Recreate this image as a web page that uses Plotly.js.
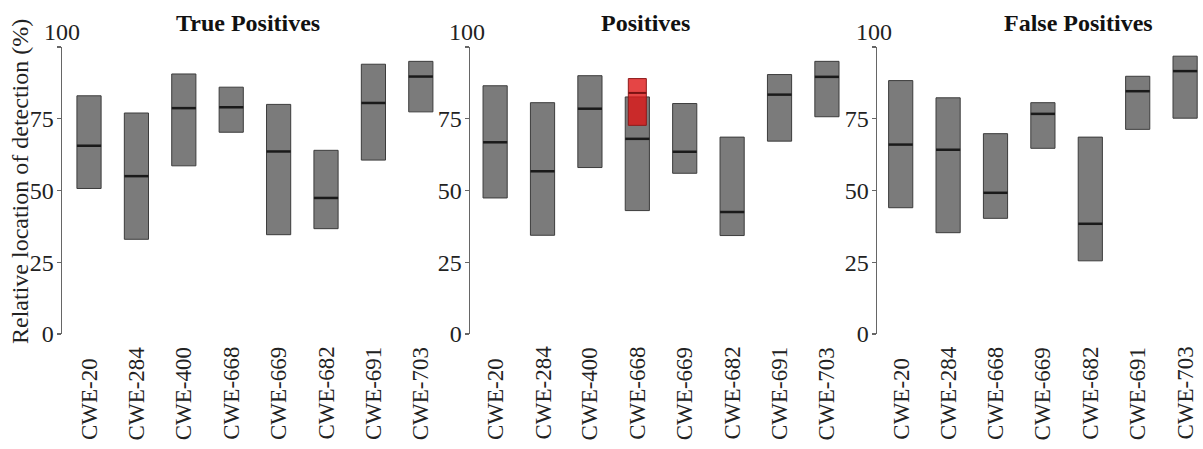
<!DOCTYPE html>
<html>
<head>
<meta charset="utf-8">
<script src="https://cdn.plot.ly/plotly-3.0.1.min.js"></script>
<style>html,body{margin:0;padding:0;background:#fff;}#chart{width:1203px;height:449px;}</style>
</head>
<body>
<div id="chart"></div>
<script>
// ---- data ----
const panelTitles = ['True Positives', 'Positives', 'False Positives'];
const yTitle = 'Relative location of detection (%)';
const yTickVals = [0, 25, 50, 75, 100];
const yTickText = ['0', '25', '50', '75', ''];
const topLabel = '100';

const tpCats = ['CWE-20','CWE-284','CWE-400','CWE-668','CWE-669','CWE-682','CWE-691','CWE-703'];
const tpLow  = [50.7, 33.0, 58.6, 70.3, 34.6, 36.7, 60.6, 77.4];
const tpHigh = [83.0, 77.0, 90.6, 86.0, 80.0, 64.0, 94.0, 95.0];
const tpMed  = [65.6, 55.0, 78.7, 79.0, 63.6, 47.4, 80.5, 89.7];

const posCats = ['CWE-20','CWE-284','CWE-400','CWE-668','CWE-669','CWE-682','CWE-691','CWE-703'];
const posLow  = [47.4, 34.4, 58.0, 43.0, 56.0, 34.3, 67.2, 75.7];
const posHigh = [86.5, 80.6, 90.0, 82.6, 80.3, 68.6, 90.4, 95.0];
const posMed  = [66.8, 56.7, 78.5, 68.0, 63.5, 42.5, 83.4, 89.6];

const hiCat  = ['CWE-668'];
const hiLow  = [72.7];
const hiHigh = [89.0];
const hiMed  = [84.0];

const fpCats = ['CWE-20','CWE-284','CWE-668','CWE-669','CWE-682','CWE-691','CWE-703'];
const fpLow  = [44.0, 35.3, 40.3, 64.7, 25.5, 71.3, 75.2];
const fpHigh = [88.3, 82.3, 69.8, 80.6, 68.6, 89.8, 96.8];
const fpMed  = [66.0, 64.2, 49.2, 76.7, 38.4, 84.6, 91.6];

// ---- styles / layout helpers ----
const W = 1203, H = 449;
const FONT = 'Liberation Serif, Times New Roman, serif';
const BAR_W = 0.51, HI_W = 0.38;
const UNIT_PX = 47.4;
const px = v => v / W;
const py = v => (H - v) / H;

const panels = [
  {cats: tpCats, low: tpLow, high: tpHigh, med: tpMed, xa: 'x', ya: 'y', axisPx: 62, rightPx: 444, r0: -0.57, title: 248, topLbl: 61.5},
  {cats: posCats, low: posLow, high: posHigh, med: posMed, xa: 'x2', ya: 'y2', axisPx: 470, rightPx: 850, r0: -0.53, title: 645, topLbl: 467},
  {cats: fpCats, low: fpLow, high: fpHigh, med: fpMed, xa: 'x3', ya: 'y3', axisPx: 877, rightPx: 1203, r0: -0.5, title: 1078, topLbl: 874}
];

const traces = [];
const annotations = [];
const layout = {
  width: W, height: H,
  margin: {l: 0, r: 0, t: 0, b: 0},
  paper_bgcolor: '#fff', plot_bgcolor: 'rgba(0,0,0,0)',
  showlegend: false,
  barmode: 'overlay',
  font: {family: FONT, color: '#222'},
  annotations: annotations
};

const yDom = [py(334), py(47)];

panels.forEach((p, k) => {
  const xs = p.cats.map((_, i) => i);
  traces.push({
    type: 'bar', x: xs, y: p.high.map((h, i) => h - p.low[i]), base: p.low,
    width: BAR_W, xaxis: p.xa, yaxis: p.ya,
    marker: {color: 'rgba(86,86,86,0.78)', line: {color: '#3c3c3c', width: 1}},
    hoverinfo: 'skip'
  });
  const mx = [], my = [];
  xs.forEach((x, i) => { mx.push(x - BAR_W / 2, x + BAR_W / 2, null); my.push(p.med[i], p.med[i], null); });
  traces.push({type: 'scatter', mode: 'lines', x: mx, y: my, xaxis: p.xa, yaxis: p.ya,
    line: {color: '#1a1a1a', width: 2.5}, hoverinfo: 'skip'});

  const xKey = 'xaxis' + (k === 0 ? '' : k + 1);
  const yKey = 'yaxis' + (k === 0 ? '' : k + 1);
  layout[xKey] = {
    domain: [px(p.axisPx), px(p.rightPx)],
    range: [p.r0, p.r0 + (p.rightPx - p.axisPx) / UNIT_PX],
    anchor: p.ya, showline: false, showgrid: false, zeroline: false,
    showticklabels: false, ticks: '', fixedrange: true
  };
  layout[yKey] = {
    domain: yDom, range: [0, 100], anchor: p.xa,
    showline: true, linecolor: '#666', linewidth: 1.5,
    ticks: 'outside', ticklen: 4, tickcolor: '#666', tickwidth: 1.2,
    tickvals: yTickVals, ticktext: yTickText, ticklabelstandoff: -2,
    tickfont: {family: FONT, size: 24, color: '#222'},
    showgrid: false, zeroline: false, fixedrange: true
  };

  annotations.push({
    text: '<b>' + panelTitles[k] + '</b>', xref: 'paper', yref: 'paper',
    x: px(p.title), y: py(23), xanchor: 'center', yanchor: 'middle', showarrow: false,
    font: {family: FONT, size: 24, color: '#111'}
  });
  annotations.push({
    text: topLabel, xref: 'paper', yref: 'paper',
    x: px(p.topLbl), y: py(32), xanchor: 'center', yanchor: 'middle', showarrow: false,
    font: {family: FONT, size: 24, color: '#222'}
  });
  p.cats.forEach((c, i) => {
    annotations.push({
      text: c, xref: p.xa, yref: 'paper', x: i, y: py(442),
      xanchor: 'center', yanchor: 'bottom', textangle: -90, showarrow: false,
      font: {family: FONT, size: 23, color: '#222'}
    });
  });
});

// highlighted box in the middle panel
const hiX = hiCat.map(c => posCats.indexOf(c));
traces.push({
  type: 'bar', x: hiX, y: hiHigh.map((h, i) => h - hiLow[i]), base: hiLow,
  width: HI_W, xaxis: 'x2', yaxis: 'y2',
  marker: {color: 'rgba(222,22,22,0.8)', line: {color: '#8e1a1a', width: 1}}, hoverinfo: 'skip'
});
const hx = [], hy = [];
hiX.forEach((x, i) => { hx.push(x - HI_W / 2, x + HI_W / 2, null); hy.push(hiMed[i], hiMed[i], null); });
traces.push({type: 'scatter', mode: 'lines', x: hx, y: hy, xaxis: 'x2', yaxis: 'y2',
  line: {color: '#7a1212', width: 2}, hoverinfo: 'skip'});

annotations.push({
  text: yTitle, xref: 'paper', yref: 'paper', x: px(20), y: py(182),
  xanchor: 'center', yanchor: 'middle', textangle: -90, showarrow: false,
  font: {family: FONT, size: 24, color: '#222'}
});

Plotly.newPlot('chart', traces, layout, {displayModeBar: false, staticPlot: true});
</script>
</body>
</html>
